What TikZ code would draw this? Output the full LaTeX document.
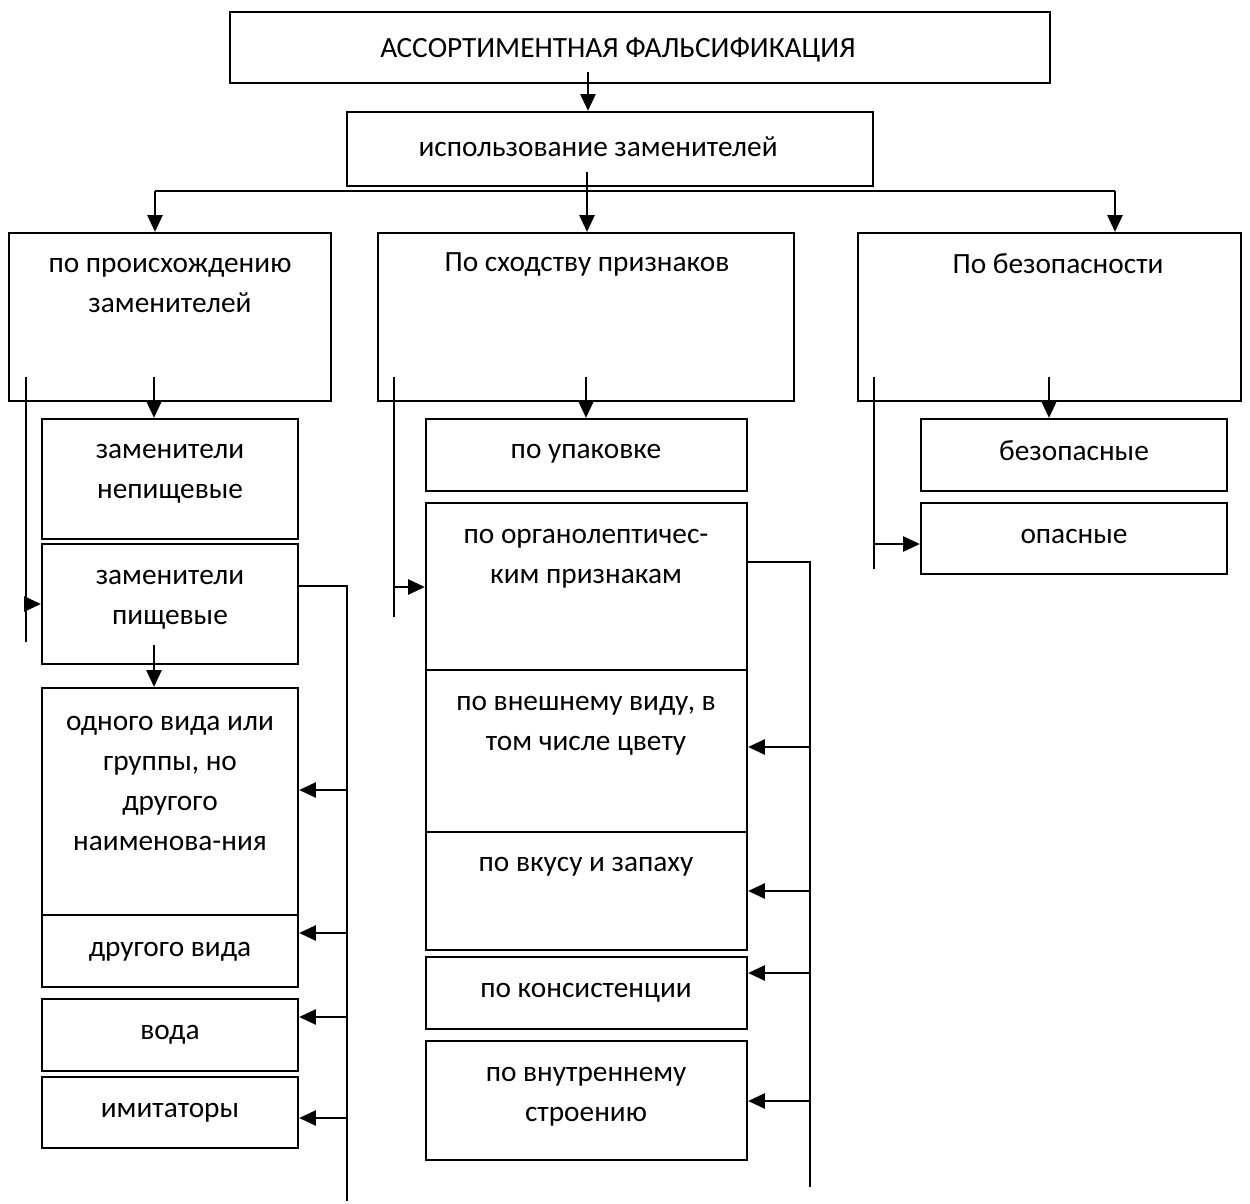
\documentclass[tikz,border=0pt]{standalone}
\usepackage{fontspec}
\setmainfont{Carlito}
\usetikzlibrary{arrows.meta,fit,calc}
\begin{document}
\begin{tikzpicture}[x=0.6pt,y=-0.6pt,
  box/.style={draw,line width=1.35pt,inner sep=0pt,rectangle},
  txt/.style={font=\fontsize{17.6}{24}\selectfont,align=center,inner sep=0pt},
  ln/.style={line width=1.35pt},
  arr/.style={line width=1.35pt,-{Triangle[length=10pt,width=9pt]}}]
\useasboundingbox (0,0) rectangle (1250,1204);
% boxes
\node[box,fit={(230,12)(1050,83)}] (top) {};
\node[box,fit={(347,112)(873,186)}] (use) {};
\node[box,fit={(9,233)(331,401)}] (orig) {};
\node[box,fit={(378,233)(794,401)}] (sim) {};
\node[box,fit={(858,233)(1241,401)}] (safe) {};
\node[box,fit={(42,419)(298,539)}] (nonfood) {};
\node[box,fit={(42,544)(298,664)}] (food) {};
\node[box,fit={(42,688)(298,915)}] (same) {};
\node[box,fit={(42,915)(298,987)}] (other) {};
\node[box,fit={(42,999)(298,1071)}] (water) {};
\node[box,fit={(42,1077)(298,1148)}] (imit) {};
\node[box,fit={(426,419)(747,491)}] (pack) {};
\node[box,fit={(426,503)(747,670)}] (org) {};
\node[box,fit={(426,670)(747,832)}] (look) {};
\node[box,fit={(426,832)(747,950)}] (taste) {};
\node[box,fit={(426,957)(747,1029)}] (cons) {};
\node[box,fit={(426,1041)(747,1160)}] (inner) {};
\node[box,fit={(921,419)(1227,491)}] (safe1) {};
\node[box,fit={(921,503)(1227,574)}] (danger) {};
% texts
\node[txt] (t-top) at (618,50) {АССОРТИМЕНТНАЯ ФАЛЬСИФИКАЦИЯ};
\node[txt] (t-use) at (598,147) {использование заменителей};
\node[txt] (t-orig) at (170,285.5) {по происхождению\\заменителей};
\node[txt] (t-sim) at (587,264) {По сходству признаков};
\node[txt] (t-safe) at (1058,264) {По безопасности};
\node[txt] (t-nonfood) at (170,474) {заменители\\непищевые};
\node[txt] (t-food) at (170,600) {заменители\\пищевые};
\node[txt] (t-same) at (170,783) {одного вида или\\группы, но\\другого\\наименова-ния};
\node[txt] (t-other) at (170,952) {другого вида};
\node[txt] (t-water) at (170,1035) {вода};
\node[txt] (t-imit) at (170,1113) {имитаторы};
\node[txt] (t-pack) at (586,454) {по упаковке};
\node[txt] (t-org) at (586,559) {по органолептичес-\\ким признакам};
\node[txt] (t-look) at (586,726) {по внешнему виду, в\\том числе цвету};
\node[txt] (t-taste) at (586,867) {по вкусу и запаху};
\node[txt] (t-cons) at (586,993) {по консистенции};
\node[txt] (t-inner) at (586,1097) {по внутреннему\\строению};
\node[txt] (t-safe1) at (1074,451) {безопасные};
\node[txt] (t-danger) at (1074,536) {опасные};
% top connectors
\coordinate (a0) at (588,72);
\draw[arr] (a0) -- (a0 |- use.north);
\coordinate (b0) at (587,172);
\coordinate (bl) at (155,191);
\coordinate (br) at (1115,191);
\draw[arr] (b0) -- (b0 |- sim.north);
\draw[ln] (bl) -- (br);
\draw[arr] (bl) -- (bl |- orig.north);
\draw[arr] (br) -- (br |- safe.north);
% left column
\coordinate (l0) at (154,377);
\draw[arr] (l0) -- (l0 |- nonfood.north);
\coordinate (lt) at (26,377);
\coordinate (lb) at (26,642);
\coordinate (la) at (26,604);
\draw[ln] (lt) -- (lb);
\draw[arr] (la) -- (la -| food.west);
\coordinate (l1) at (154,645);
\draw[arr] (l1) -- (l1 |- same.north);
\coordinate (lr0) at (347,586);
\coordinate (lr1) at (347,1201);
\draw[ln] (food.east |- lr0) -- (lr0) -- (lr1);
\coordinate (p1) at (347,790);
\coordinate (p2) at (347,933);
\coordinate (p3) at (347,1017);
\coordinate (p4) at (347,1118);
\draw[arr] (p1) -- (p1 -| same.east);
\draw[arr] (p2) -- (p2 -| other.east);
\draw[arr] (p3) -- (p3 -| water.east);
\draw[arr] (p4) -- (p4 -| imit.east);
% middle column
\coordinate (m0) at (586,377);
\draw[arr] (m0) -- (m0 |- pack.north);
\coordinate (mt) at (394,377);
\coordinate (mb) at (394,617);
\coordinate (ma) at (394,587);
\draw[ln] (mt) -- (mb);
\draw[arr] (ma) -- (ma -| org.west);
\coordinate (mr0) at (810,562);
\coordinate (mr1) at (810,1187);
\draw[ln] (org.east |- mr0) -- (mr0) -- (mr1);
\coordinate (q1) at (810,747);
\coordinate (q2) at (810,891);
\coordinate (q3) at (810,973);
\coordinate (q4) at (810,1101);
\draw[arr] (q1) -- (q1 -| look.east);
\draw[arr] (q2) -- (q2 -| taste.east);
\draw[arr] (q3) -- (q3 -| cons.east);
\draw[arr] (q4) -- (q4 -| inner.east);
% right column
\coordinate (r0) at (1049,377);
\draw[arr] (r0) -- (r0 |- safe1.north);
\coordinate (rt) at (874,377);
\coordinate (rb) at (874,569);
\coordinate (ra) at (874,544);
\draw[ln] (rt) -- (rb);
\draw[arr] (ra) -- (ra -| danger.west);
\end{tikzpicture}
\end{document}
